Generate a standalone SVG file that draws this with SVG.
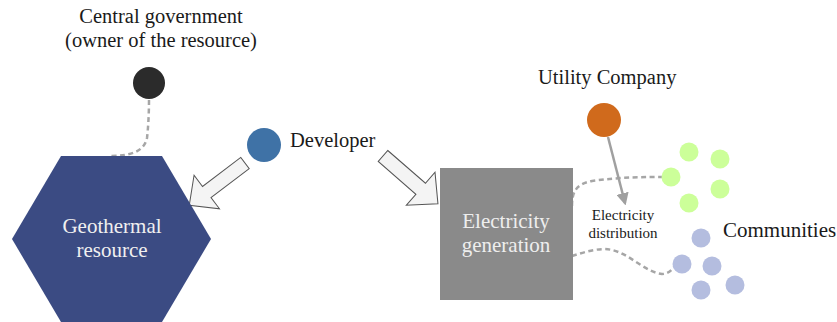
<svg xmlns="http://www.w3.org/2000/svg" width="837" height="322" viewBox="0 0 837 322" font-family="'Liberation Serif', 'Times New Roman', serif">
  <style>
    text { font-family: "Liberation Serif", "Times New Roman", serif; fill: #1a1a1a; }
    .lbl { font-size: 20.5px; }
    .inner { font-size: 21px; text-anchor: middle; }
    .small { font-size: 15px; text-anchor: middle; }
    .dash { fill: none; stroke: #a6a6a6; stroke-width: 2.5; stroke-dasharray: 5 3.5; }
    .block { fill: #f4f4f4; stroke: #555; stroke-width: 1; stroke-linejoin: miter; }
    .green { fill: #ccff99; }
    .lav { fill: #b4bddf; }
  </style>
  <defs>
    <marker id="head" viewBox="0 0 10 10" refX="8" refY="5" markerWidth="5" markerHeight="5" orient="auto">
      <path d="M0,0 L10,5 L0,10 z" fill="#a0a0a0"/>
    </marker>
    <!-- hollow block arrow pointing along +x, tip at (70,0) -->
    <polygon id="blockArrow" points="0,-7 48,-7 48,-21 70,0 48,21 48,7 0,7"/>
  </defs>

  <g id="connectors">
    <path class="dash" d="M149,100 C149,115 148,130 147,138 C144,152 130,156 110,156"/>
    <path class="dash" d="M572,206 C572,192 576,184 592,181 C620,177 645,177 668,177"/>
    <path class="dash" d="M572,256 C585,252 600,247 612,250 C630,254 645,272 662,274 C670,274 673,268 676,264"/>
    <line x1="608" y1="137" x2="625" y2="203" stroke="#a0a0a0" stroke-width="2.5" marker-end="url(#head)"/>
    <use href="#blockArrow" class="block" transform="translate(245,163) rotate(142.8)" />
    <use href="#blockArrow" class="block" transform="translate(383,156) rotate(41) scale(1.04)" />
  </g>

  <g id="central-government">
    <circle cx="149" cy="83" r="16" fill="#2b2b2b"/>
    <text class="lbl" x="161" y="23" text-anchor="middle">Central government</text>
    <text class="lbl" x="161" y="47" text-anchor="middle">(owner of the resource)</text>
  </g>

  <g id="geothermal-resource">
    <polygon points="61,156 162,156 211,239 162,322 61,322 12,239" fill="#3b4b83"/>
    <text class="inner" x="112" y="233" style="fill:#f0f0f0">Geothermal</text>
    <text class="inner" x="112" y="257" style="fill:#f0f0f0">resource</text>
  </g>

  <g id="developer">
    <circle cx="264" cy="145" r="17" fill="#3f72a6"/>
    <text class="lbl" x="290" y="147">Developer</text>
  </g>

  <g id="electricity-generation">
    <rect x="440" y="168" width="133" height="132" fill="#8a8a8a"/>
    <text class="inner" x="506" y="228" style="fill:#eeeeee">Electricity</text>
    <text class="inner" x="506" y="252" style="fill:#eeeeee">generation</text>
  </g>

  <g id="utility-company">
    <circle cx="604" cy="120" r="17" fill="#d06a1c"/>
    <text class="lbl" x="538" y="84">Utility Company</text>
  </g>

  <g id="electricity-distribution">
    <text class="small" x="623" y="220">Electricity</text>
    <text class="small" x="623" y="238">distribution</text>
  </g>

  <g id="communities">
    <circle class="green" cx="689" cy="152" r="9.5"/>
    <circle class="green" cx="720" cy="159" r="9.5"/>
    <circle class="green" cx="671" cy="177" r="9.5"/>
    <circle class="green" cx="720" cy="189" r="9.5"/>
    <circle class="green" cx="689" cy="203" r="9.5"/>
    <circle class="lav" cx="701" cy="238" r="9.5"/>
    <circle class="lav" cx="682" cy="264" r="9.5"/>
    <circle class="lav" cx="712" cy="266" r="9.5"/>
    <circle class="lav" cx="701" cy="290" r="9.5"/>
    <circle class="lav" cx="735" cy="285" r="9.5"/>
    <text class="lbl" x="723" y="237" style="font-size:21px">Communities</text>
  </g>
</svg>
